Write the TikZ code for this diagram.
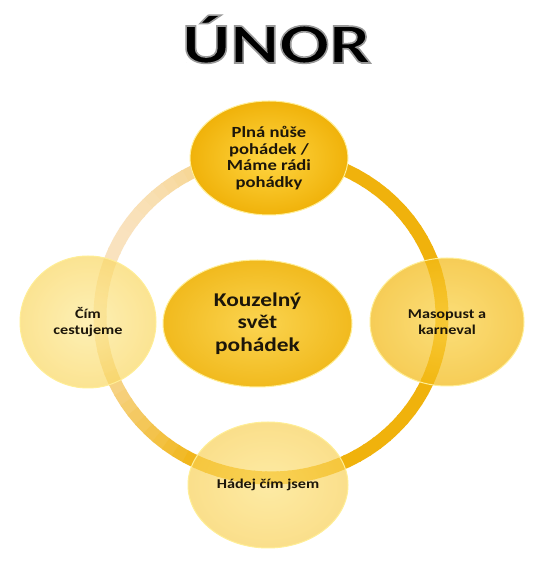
\documentclass[tikz,border=0pt]{standalone}
\usepackage{fontspec}
\setmainfont{Carlito}[FakeStretch=1.2]
\newfontfamily\titlefont{Carlito}[FakeStretch=1.3]
\usetikzlibrary{shapes.geometric}
\definecolor{ringgold}{RGB}{240,178,12}
\definecolor{ringpale}{RGB}{249,226,190}
\definecolor{rimgold}{RGB}{255,238,150}
\definecolor{txt}{RGB}{28,22,10}
\newcommand{\greyrim}[1]{\special{pdf:literal direct 2 Tr 0.6 0.6 0.6 RG 1.6 w}#1\special{pdf:literal direct 0 Tr 1 w}}
\begin{document}
\begin{tikzpicture}[x = 1pt, y = 1pt,
        bubble/.style = {ellipse, inner sep = 0pt, align = center, text = txt, text opacity = 1,
            draw = rimgold, line width = 1pt, font = \bfseries\fontsize{13.5}{16.5}\selectfont}]
    \useasboundingbox (0, 0) rectangle (544, 562);
    \fill [white] (0, 0) rectangle (544, 562);
    % ring
    \foreach \a in {0, 4, ..., 356} {
        \pgfmathtruncatemacro{\p}{100*(1 - max(0, cos(\a - 155)))}
        \draw [line width = 13pt, ringgold!\p!ringpale] (271, 246) ++(\a:171 and 162)
            arc [start angle = \a, end angle = \a + 4.6, x radius = 171, y radius = 162];
    }
    \node [bubble, minimum width = 136pt, minimum height = 132pt, fill opacity = 0.7,
        inner color = {rgb,255:red,253;green,234;blue,150}, outer color = {rgb,255:red,250;green,216;blue,100}]
        (L) at (88, 240) {Čím\\cestujeme};
    \node [bubble, minimum width = 154pt, minimum height = 128pt, fill opacity = 0.72,
        inner color = {rgb,255:red,251;green,210;blue,70}, outer color = {rgb,255:red,243;green,186;blue,22}]
        (R) at (447, 240) {Masopust a\\karneval};
    \node [bubble, minimum width = 160pt, minimum height = 126pt, fill opacity = 0.68,
        inner color = {rgb,255:red,253;green,226;blue,122}, outer color = {rgb,255:red,249;green,208;blue,84}]
        (B) at (268, 77) {Hádej čím jsem};
    \node [bubble, minimum width = 158pt, minimum height = 114pt, font = \bfseries\fontsize{15.5}{16.7}\selectfont,
        inner color = {rgb,255:red,255;green,214;blue,66}, outer color = {rgb,255:red,240;green,178;blue,10}]
        (T) at (269, 404) {Plná nůše\\pohádek /\\Máme rádi\\pohádky};
    \node [bubble, minimum width = 189pt, minimum height = 127pt, font = \bfseries\fontsize{19.5}{22.5}\selectfont,
        inner color = {rgb,255:red,251;green,212;blue,80}, outer color = {rgb,255:red,241;green,186;blue,30}]
        (C) at (257.5, 238.5) {Kouzelný\\svět\\pohádek};
    % title
    \node [anchor = base, text = black, font = \titlefont\bfseries\fontsize{57}{60}\selectfont]
        (U) at (276.5, 499) {\greyrim{ÚNOR}};
\end{tikzpicture}
\end{document}
